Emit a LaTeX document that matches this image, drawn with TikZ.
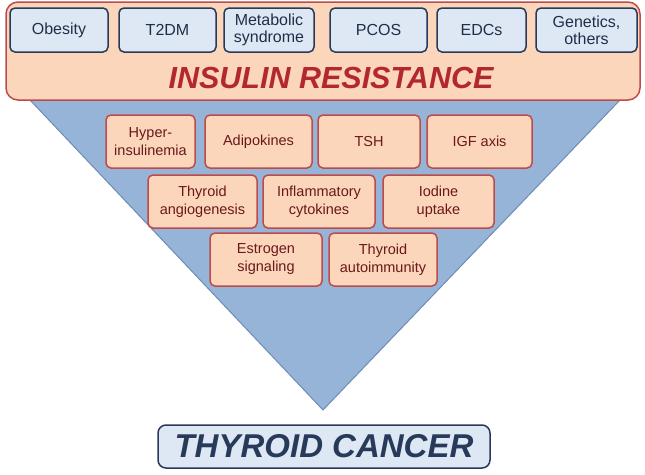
\documentclass[tikz,border=0pt]{standalone}
\usepackage{fontspec}
\setmainfont{Liberation Sans}
\usetikzlibrary{positioning}
\definecolor{peach}{RGB}{251,214,186}
\definecolor{redline}{RGB}{190,75,75}
\definecolor{irtext}{RGB}{178,40,45}
\definecolor{paleblue}{RGB}{222,232,245}
\definecolor{navy}{RGB}{40,58,90}
\definecolor{funnel}{RGB}{150,180,215}
\definecolor{funnelline}{RGB}{110,140,180}
\tikzset{
  cause/.style={draw=navy, line width=1.5pt, fill=paleblue, rounded corners=5pt, font=\fontsize{16}{17}\selectfont, text=navy!80!black, align=center, inner sep=0pt},
  factor/.style={draw=redline, line width=1.5pt, fill=peach, rounded corners=5pt, font=\fontsize{14.5}{18}\selectfont, text=irtext!60!black, align=center, inner sep=0pt}
}
\begin{document}
\begin{tikzpicture}[x=1pt, y=-1pt]

    %% Background
    \useasboundingbox (0,0) rectangle (645,474);

    % Funnel
    \draw[fill=funnel, draw=funnelline, line width=1pt] (30,100) -- (620,100) -- (323,410) -- cycle;

    % Insulin resistance band
    \draw[fill=peach, draw=redline, line width=1.5pt, rounded corners=12pt] (6,2) rectangle (640,100);
    \node[font=\fontsize{30.5}{30}\selectfont\bfseries\itshape, text=irtext] (ir) at (331,78) {INSULIN RESISTANCE};

    % Causes
    \foreach \xa/\xb/\lbl/\nm in {10/108/Obesity/obe, 119/216/T2DM/tdm, 224/314/{Metabolic\\syndrome}/mets,
        330/427/PCOS/pcos, 437/526/EDCs/edc, 536/637/{Genetics,\\others}/gen}
      \node[cause, minimum width=\xb-\xa, minimum height=44] (\nm) at ({(\xa+\xb)/2},30) {\lbl};

    % Mechanisms
    \foreach \xa/\xb/\ya/\lbl/\nm in {106/195/115/{Hyper-\\insulinemia}/hyp, 205/312/115/Adipokines/adi,
        318/420/115/TSH/tsh, 427/532/115/IGF axis/igf,
        148/257/175/{Thyroid\\angiogenesis}/ang, 263/375/175/{Inflammatory\\cytokines}/cyt, 383/494/175/{Iodine\\uptake}/iod,
        210/322/233/{Estrogen\\signaling}/est, 329/437/233/{Thyroid\\autoimmunity}/aut}
      \node[factor, minimum width=\xb-\xa, minimum height=53] (\nm) at ({(\xa+\xb)/2},\ya+26.5) {\lbl};

    % Outcome
    \node[draw=navy, line width=1.5pt, fill=paleblue, rounded corners=8pt, minimum width=332, minimum height=43,
        font=\fontsize{33}{33}\selectfont\bfseries\itshape, text=navy] (tc) at (324,446.5) {THYROID CANCER};

\end{tikzpicture}
\end{document}
